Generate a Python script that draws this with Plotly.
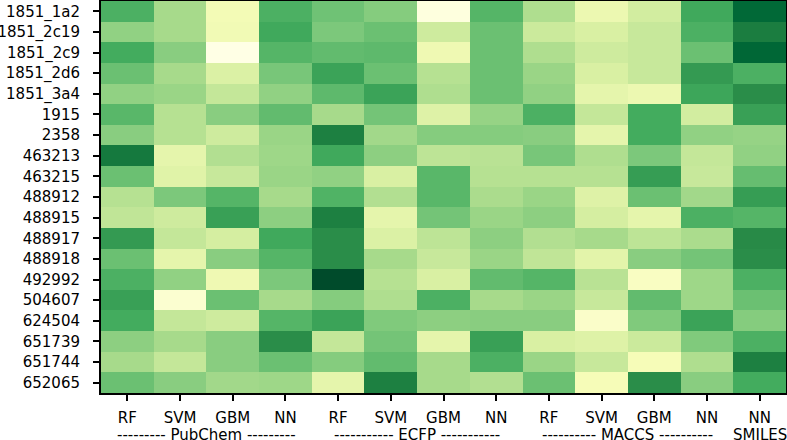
import plotly.graph_objects as go

rows = ["1851_1a2", "1851_2c19", "1851_2c9", "1851_2d6", "1851_3a4", "1915", "2358",
        "463213", "463215", "488912", "488915", "488917", "488918", "492992",
        "504607", "624504", "651739", "651744", "652065"]
models = ["RF", "SVM", "GBM", "NN", "RF", "SVM", "GBM", "NN", "RF", "SVM", "GBM", "NN", "NN"]
groups = ["--------- PubChem ---------", "----------- ECFP -----------",
          "---------- MACCS ----------", "SMILES"]
group_cols = [[0, 1, 2, 3], [4, 5, 6, 7], [8, 9, 10, 11], [12]]

scores = [
    [0.60, 0.39, 0.14, 0.60, 0.52, 0.47, 0.02, 0.58, 0.37, 0.17, 0.27, 0.63, 0.87],
    [0.44, 0.39, 0.15, 0.63, 0.49, 0.53, 0.28, 0.53, 0.29, 0.25, 0.30, 0.60, 0.78],
    [0.62, 0.46, 0.00, 0.58, 0.55, 0.56, 0.16, 0.53, 0.37, 0.28, 0.30, 0.53, 0.88],
    [0.53, 0.39, 0.24, 0.50, 0.65, 0.53, 0.35, 0.53, 0.42, 0.25, 0.30, 0.68, 0.60],
    [0.44, 0.42, 0.31, 0.44, 0.56, 0.65, 0.37, 0.53, 0.44, 0.20, 0.17, 0.64, 0.72],
    [0.57, 0.35, 0.46, 0.55, 0.39, 0.51, 0.23, 0.43, 0.60, 0.31, 0.62, 0.27, 0.66],
    [0.46, 0.35, 0.28, 0.42, 0.77, 0.40, 0.47, 0.47, 0.46, 0.20, 0.62, 0.44, 0.43],
    [0.80, 0.20, 0.36, 0.41, 0.63, 0.45, 0.33, 0.34, 0.50, 0.37, 0.49, 0.31, 0.44],
    [0.53, 0.22, 0.30, 0.42, 0.44, 0.25, 0.57, 0.35, 0.35, 0.35, 0.67, 0.30, 0.54],
    [0.35, 0.49, 0.58, 0.39, 0.59, 0.36, 0.57, 0.38, 0.42, 0.23, 0.53, 0.40, 0.67],
    [0.32, 0.28, 0.66, 0.45, 0.77, 0.20, 0.51, 0.42, 0.45, 0.26, 0.20, 0.60, 0.58],
    [0.68, 0.31, 0.26, 0.63, 0.72, 0.24, 0.33, 0.45, 0.36, 0.39, 0.33, 0.38, 0.73],
    [0.53, 0.20, 0.46, 0.58, 0.72, 0.39, 0.30, 0.42, 0.32, 0.21, 0.46, 0.51, 0.72],
    [0.60, 0.44, 0.16, 0.49, 0.98, 0.35, 0.25, 0.55, 0.58, 0.34, 0.10, 0.41, 0.60],
    [0.66, 0.06, 0.53, 0.39, 0.47, 0.37, 0.60, 0.39, 0.42, 0.30, 0.55, 0.41, 0.53],
    [0.62, 0.31, 0.28, 0.58, 0.65, 0.48, 0.45, 0.46, 0.46, 0.08, 0.48, 0.65, 0.47],
    [0.45, 0.39, 0.46, 0.72, 0.31, 0.51, 0.20, 0.66, 0.25, 0.23, 0.29, 0.48, 0.60],
    [0.39, 0.31, 0.46, 0.53, 0.47, 0.55, 0.39, 0.60, 0.42, 0.30, 0.13, 0.37, 0.77],
    [0.53, 0.46, 0.40, 0.41, 0.20, 0.77, 0.39, 0.36, 0.53, 0.13, 0.72, 0.46, 0.62],
]

ylgn = [[0.0, "#ffffe5"], [0.125, "#f7fcb9"], [0.25, "#d9f0a3"], [0.375, "#addd8e"],
        [0.5, "#78c679"], [0.625, "#41ab5d"], [0.75, "#238443"], [0.875, "#006837"],
        [1.0, "#004529"]]

col_idx = list(range(len(models)))

fig = go.Figure(go.Heatmap(
    z=scores, x=col_idx, y=rows, colorscale=ylgn, zmin=0, zmax=1,
    showscale=False, hoverongaps=False,
))

font = dict(family="DejaVu Sans", size=15, color="black")

fig.update_layout(
    width=787, height=440,
    margin=dict(l=101, r=1, t=1, b=47),
    paper_bgcolor="white", plot_bgcolor="white",
    font=font,
    xaxis=dict(tickmode="array", tickvals=col_idx, ticktext=models,
               range=[-0.5, len(models) - 0.5], ticks="outside", ticklen=6,
               tickwidth=1.5, tickcolor="black", showline=True, linecolor="black",
               linewidth=2, mirror=True, showgrid=False, zeroline=False,
               ticklabelstandoff=4, tickfont=font, automargin=False),
    yaxis=dict(autorange="reversed", ticks="outside", ticklen=6, tickwidth=1.5,
               tickcolor="black", showline=True, linecolor="black", linewidth=2,
               mirror=True, showgrid=False, zeroline=False, ticklabelstandoff=10,
               tickfont=font, automargin=False),
)

for label, cols in zip(groups, group_cols):
    xc = sum(cols) / len(cols)
    fig.add_annotation(x=xc, xref="x", y=0, yref="paper", yshift=-42,
                       text=label, showarrow=False, font=font,
                       xanchor="center", yanchor="middle")

fig.write_html("out.html", config={"displayModeBar": False},
               post_script="document.body.style.margin='0';document.body.style.overflow='hidden';")
